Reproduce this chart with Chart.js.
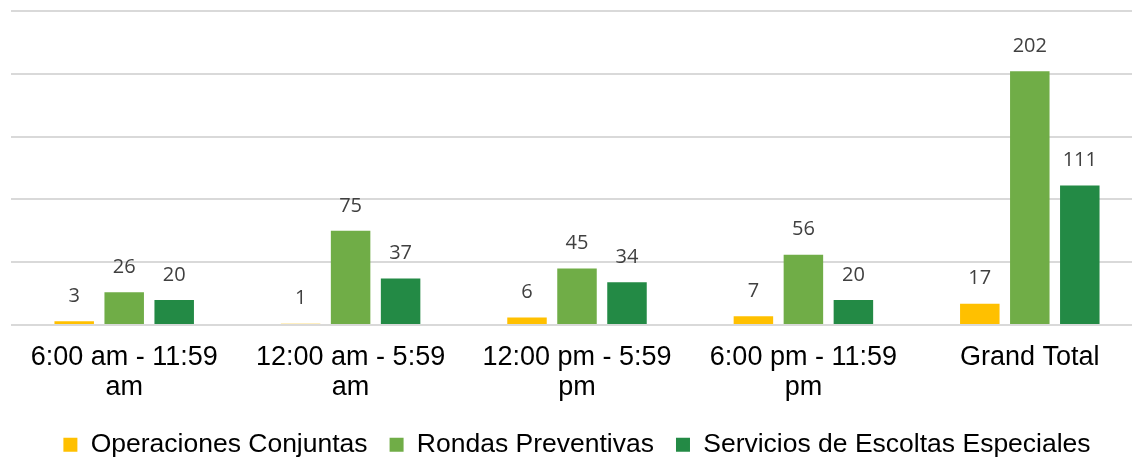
<!DOCTYPE html>
<html>
<head>
<meta charset="utf-8">
<script src="https://cdn.jsdelivr.net/npm/chart.js@4"></script>
<style>
  body { margin: 0; background: #fff; overflow: hidden; }
  #wrap { width: 1153px; height: 459px; }
</style>
</head>
<body>
<div id="wrap"><canvas id="chart"></canvas></div>
<script>
// data
const categories = [
  ['6:00 am - 11:59', 'am'],
  ['12:00 am - 5:59', 'am'],
  ['12:00 pm - 5:59', 'pm'],
  ['6:00 pm - 11:59', 'pm'],
  'Grand Total'
];
const operacionesConjuntas = [3, 1, 6, 7, 17];
const rondasPreventivas = [26, 75, 45, 56, 202];
const serviciosEscoltas = [20, 37, 34, 20, 111];

// draws the numbers above each bar
const barValues = {
  id: 'barValues',
  afterDatasetsDraw(chart) {
    const ctx = chart.ctx;
    ctx.save();
    ctx.font = '20px "Open Sans"';
    ctx.fillStyle = '#404040';
    ctx.textAlign = 'center';
    ctx.textBaseline = 'middle';
    chart.data.datasets.forEach((ds, i) => {
      chart.getDatasetMeta(i).data.forEach((bar, j) => {
        ctx.fillText(ds.data[j], bar.x, bar.y - 25);
      });
    });
    ctx.restore();
  }
};

new Chart(document.getElementById('chart'), {
  type: 'bar',
  data: {
    labels: categories,
    datasets: [
      { label: 'Operaciones Conjuntas', data: operacionesConjuntas, backgroundColor: '#FFC000' },
      { label: 'Rondas Preventivas', data: rondasPreventivas, backgroundColor: '#70AD47' },
      { label: 'Servicios de Escoltas Especiales', data: serviciosEscoltas, backgroundColor: '#238A45' }
    ]
  },
  options: {
    responsive: true,
    maintainAspectRatio: false,
    animation: false,
    categoryPercentage: 0.6625,
    barPercentage: 0.79,
    layout: { padding: { left: 11, right: 10, top: 11, bottom: -9 } },
    plugins: {
      tooltip: { enabled: false },
      legend: {
        position: 'bottom',
        labels: {
          boxWidth: 14,
          boxHeight: 14,
          padding: 22,
          color: '#000',
          font: { family: '"Liberation Sans", Arial', size: 26.5 }
        }
      }
    },
    scales: {
      x: {
        grid: { display: false },
        border: { display: false },
        ticks: {
          color: '#000',
          maxRotation: 0,
          padding: 9,
          font: { family: '"Liberation Sans", Arial', size: 27, lineHeight: 1.12 }
        },
        afterFit(scale) { scale.height -= 2; }
      },
      y: {
        min: 0,
        max: 250,
        ticks: { display: false, stepSize: 50 },
        grid: { color: '#d9d9d9', lineWidth: 2, drawTicks: false },
        border: { display: false }
      }
    }
  },
  plugins: [barValues]
});
</script>
</body>
</html>
